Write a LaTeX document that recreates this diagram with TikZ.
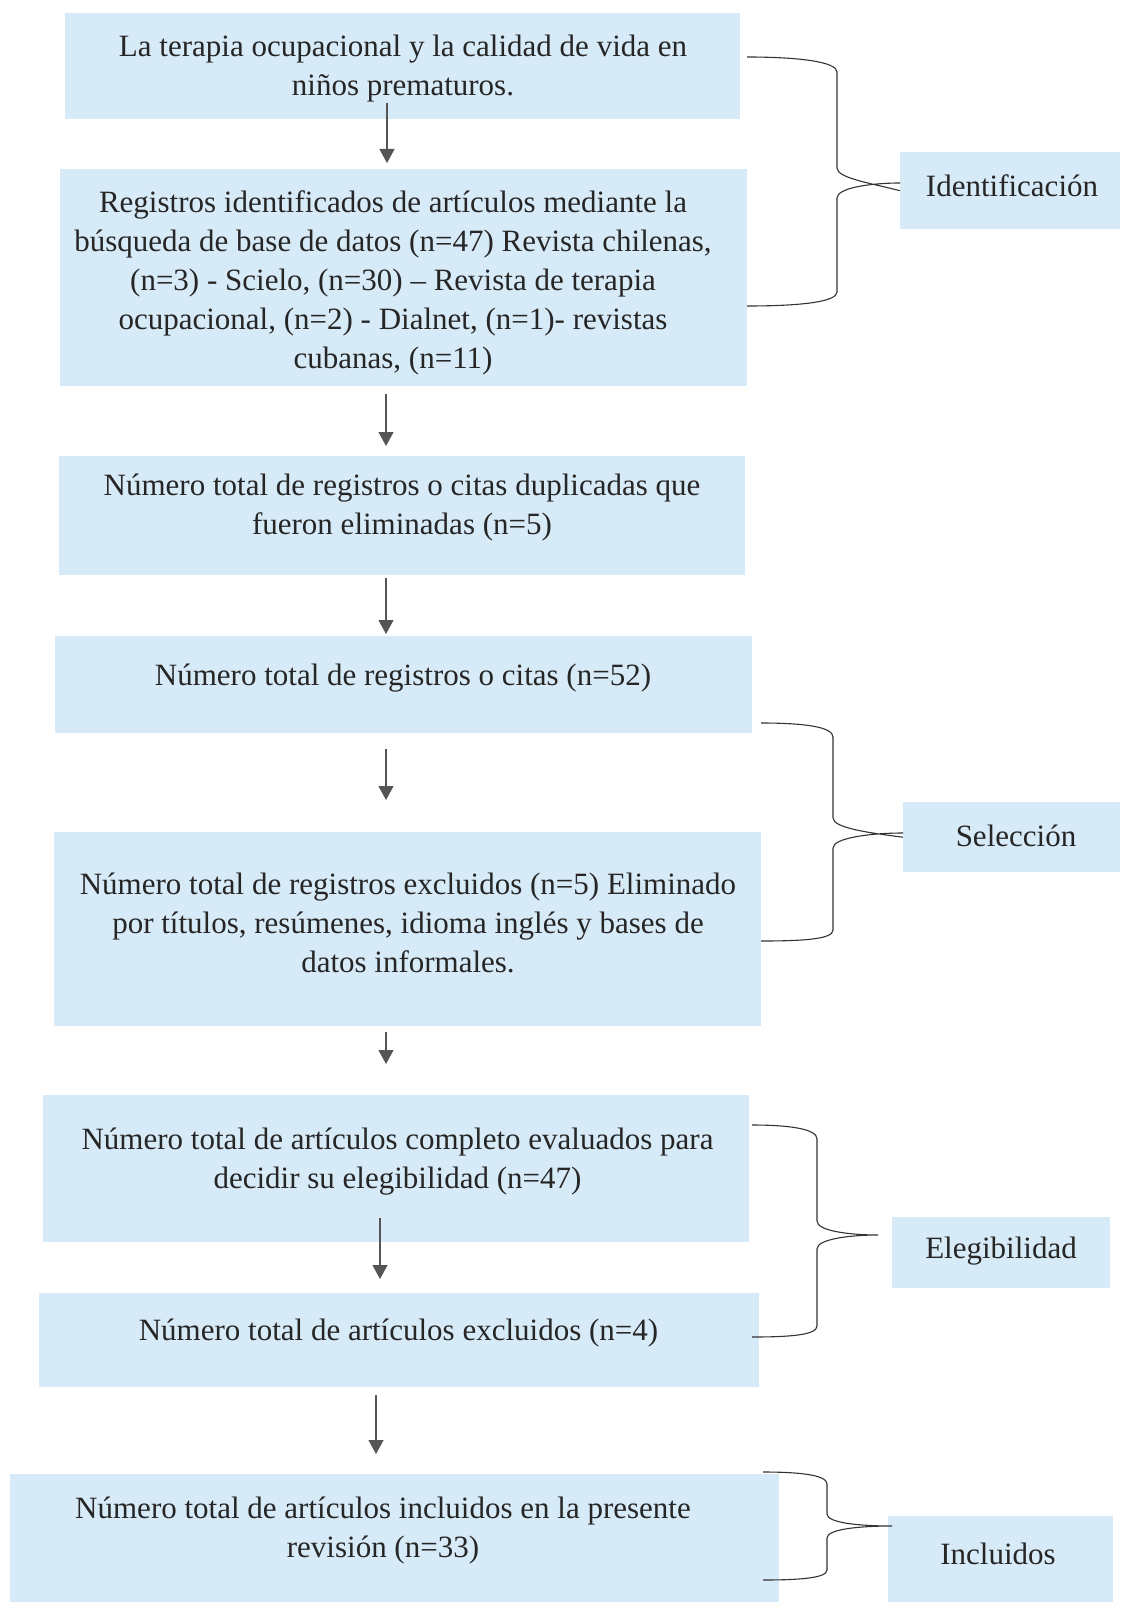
\documentclass[tikz,border=0pt]{standalone}
\usepackage{fontspec}
\setmainfont{Liberation Serif}
\usetikzlibrary{arrows.meta}
\definecolor{boxblue}{RGB}{215,234,247}
\definecolor{arrgray}{RGB}{85,85,85}
\begin{document}
\begin{tikzpicture}[x=1pt,y=-1pt,
  bx/.style={fill=boxblue,draw=none,inner sep=0pt,anchor=north west},
  txt/.style={align=center,inner sep=0pt,font=\fontsize{31}{39}\selectfont,text=black!85},
  lbl/.style={inner sep=0pt,font=\fontsize{31}{39}\selectfont,text=black!85},
  arr/.style={draw=arrgray,line width=1.2pt,-{Triangle[width=15pt,length=14pt,fill=arrgray]}},
  brace/.style={draw=black!80,line width=1.1pt}]
\useasboundingbox (0,0) rectangle (1120,1602);
\fill[white] (0,0) rectangle (1120,1602);
% boxes
\node[bx,minimum width=675pt,minimum height=106pt] (b1) at (65,13) {};
\node[bx,minimum width=687pt,minimum height=217pt] (b2) at (60,169) {};
\node[bx,minimum width=686pt,minimum height=119pt] (b3) at (59,456) {};
\node[bx,minimum width=697pt,minimum height=97pt] (b4) at (55,636) {};
\node[bx,minimum width=707pt,minimum height=194pt] (b5) at (54,832) {};
\node[bx,minimum width=706pt,minimum height=147pt] (b6) at (43,1095) {};
\node[bx,minimum width=720pt,minimum height=94pt] (b7) at (39,1293) {};
\node[bx,minimum width=769pt,minimum height=128pt] (b8) at (10,1474) {};
% side label boxes
\node[bx,minimum width=220pt,minimum height=77pt] (s1) at (900,152) {};
\node[bx,minimum width=217pt,minimum height=70pt] (s2) at (903,802) {};
\node[bx,minimum width=218pt,minimum height=71pt] (s3) at (892,1217) {};
\node[bx,minimum width=225pt,minimum height=86pt] (s4) at (888,1516) {};
% texts
\node[txt] (t1) at (403,69) {La terapia ocupacional y la calidad de vida en\\niños prematuros.};
\node[txt] (t2) at (393,283) {Registros identificados de artículos mediante la\\búsqueda de base de datos (n=47) Revista chilenas,\\(n=3) - Scielo, (n=30) – Revista de terapia\\ocupacional, (n=2) - Dialnet, (n=1)- revistas\\cubanas, (n=11)};
\node[txt] (t3) at (402,508) {Número total de registros o citas duplicadas que\\fueron eliminadas (n=5)};
\node[txt] (t4) at (403,678) {Número total de registros o citas (n=52)};
\node[txt] (t5) at (408,923) {Número total de registros excluidos (n=5) Eliminado\\por títulos, resúmenes, idioma inglés y bases de\\datos informales.};
\node[txt] (t6) at (397.5,1162) {Número total de artículos completo evaluados para\\decidir su elegibilidad (n=47)};
\node[txt] (t7) at (398.5,1333.5) {Número total de artículos excluidos (n=4)};
\node[txt] (t8) at (383,1531) {Número total de artículos incluidos en la presente\\revisión (n=33)};
\node[lbl] (l1) at (1012,186) {Identificación};
\node[lbl] (l2) at (1016,836) {Selección};
\node[lbl] (l3) at (1001,1251) {Elegibilidad};
\node[lbl] (l4) at (998,1554) {Incluidos};
% arrow x positions
\coordinate (x1) at (387,0);
\coordinate (x2) at (386,0);
\coordinate (x6) at (380,0);
\coordinate (x7) at (376,0);
% arrows
\draw[arr] ([yshift=16pt]x1 |- b1.south) -- ([yshift=6pt]x1 |- b2.north);
\draw[arr] ([yshift=-8pt]x2 |- b2.south) -- ([yshift=10pt]x2 |- b3.north);
\draw[arr] ([yshift=-3pt]x2 |- b3.south) -- ([yshift=2pt]x2 |- b4.north);
\draw[arr] ([yshift=-16pt]x2 |- b4.south) -- ([yshift=32pt]x2 |- b5.north);
\draw[arr] ([yshift=-6pt]x2 |- b5.south) -- ([yshift=31pt]x2 |- b6.north);
\draw[arr] ([yshift=24pt]x6 |- b6.south) -- ([yshift=14pt]x6 |- b7.north);
\draw[arr] ([yshift=-8pt]x7 |- b7.south) -- ([yshift=20pt]x7 |- b8.north);
% braces
\draw[brace] (747,57) .. controls (800,57) and (837,62) .. (837,72) -- (837,168)
  .. controls (837,178) and (870,183) .. (s1.west)
  (900,183) .. controls (870,183) and (837,188) .. (837,198) -- (837,292)
  .. controls (837,302) and (800,306) .. (747,306);
\draw[brace] (761,723) .. controls (805,723) and (833,727) .. (833,737) -- (833,818)
  .. controls (833,828) and (870,833) .. (s2.west)
  (903,833) .. controls (870,833) and (833,838) .. (833,848) -- (833,930)
  .. controls (833,939) and (805,941) .. (761,941);
\draw[brace] (752,1125) .. controls (790,1125) and (817,1129) .. (817,1139) -- (817,1221)
  .. controls (817,1231) and (850,1235) .. (878,1235)
  (878,1235) .. controls (850,1235) and (817,1239) .. (817,1249) -- (817,1326)
  .. controls (817,1335) and (790,1337) .. (752,1337);
\draw[brace] (763,1472) .. controls (800,1472) and (827,1475) .. (827,1484) -- (827,1514)
  .. controls (827,1523) and (860,1526) .. (892,1526)
  (892,1526) .. controls (860,1526) and (827,1529) .. (827,1538) -- (827,1570)
  .. controls (827,1578) and (800,1580) .. (763,1580);
\end{tikzpicture}
\end{document}
